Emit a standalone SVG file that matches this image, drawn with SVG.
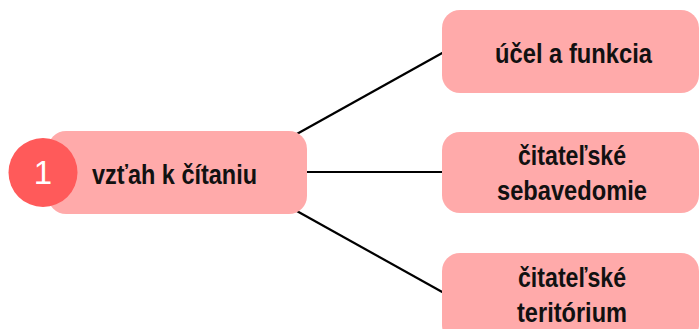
<svg xmlns="http://www.w3.org/2000/svg" width="699" height="329" viewBox="0 0 699 329">
<style>
.box{fill:#FFAAAA;}
.lbl{font-family:"Liberation Sans",Arial,sans-serif;font-weight:bold;font-size:27px;fill:#111;}
.num{font-family:"Liberation Sans",Arial,sans-serif;font-size:33px;fill:#fff;text-anchor:middle;}
.conn{stroke:#000;stroke-width:2.2;fill:none;}
</style>
<rect width="699" height="329" fill="#fff"/>
<g id="connectors">
<line class="conn" x1="295" y1="135" x2="444" y2="52"/>
<line class="conn" x1="300" y1="172" x2="444" y2="172"/>
<line class="conn" x1="295" y1="210" x2="444" y2="293"/>
</g>
<g id="node-main">
<rect class="box" x="48" y="131" width="259" height="83" rx="18"/>
<text class="lbl" x="92" y="184" textLength="165" lengthAdjust="spacingAndGlyphs">vzťah k čítaniu</text>
</g>
<g id="node-badge">
<circle cx="43" cy="172.5" r="34.5" fill="#FF5A5A"/>
<text class="num" x="43" y="184">1</text>
</g>
<g id="node-1">
<rect class="box" x="442" y="10" width="257" height="83" rx="18"/>
<text class="lbl" x="495" y="63" textLength="157" lengthAdjust="spacingAndGlyphs">účel a funkcia</text>
</g>
<g id="node-2">
<rect class="box" x="442" y="132" width="257" height="81" rx="18"/>
<text class="lbl" x="518" y="165" textLength="108" lengthAdjust="spacingAndGlyphs">čitateľské</text>
<text class="lbl" x="497" y="200" textLength="150" lengthAdjust="spacingAndGlyphs">sebavedomie</text>
</g>
<g id="node-3">
<rect class="box" x="442" y="253" width="257" height="90" rx="18"/>
<text class="lbl" x="518" y="287" textLength="108" lengthAdjust="spacingAndGlyphs">čitateľské</text>
<text class="lbl" x="517" y="322" textLength="110" lengthAdjust="spacingAndGlyphs">teritórium</text>
</g>
</svg>
